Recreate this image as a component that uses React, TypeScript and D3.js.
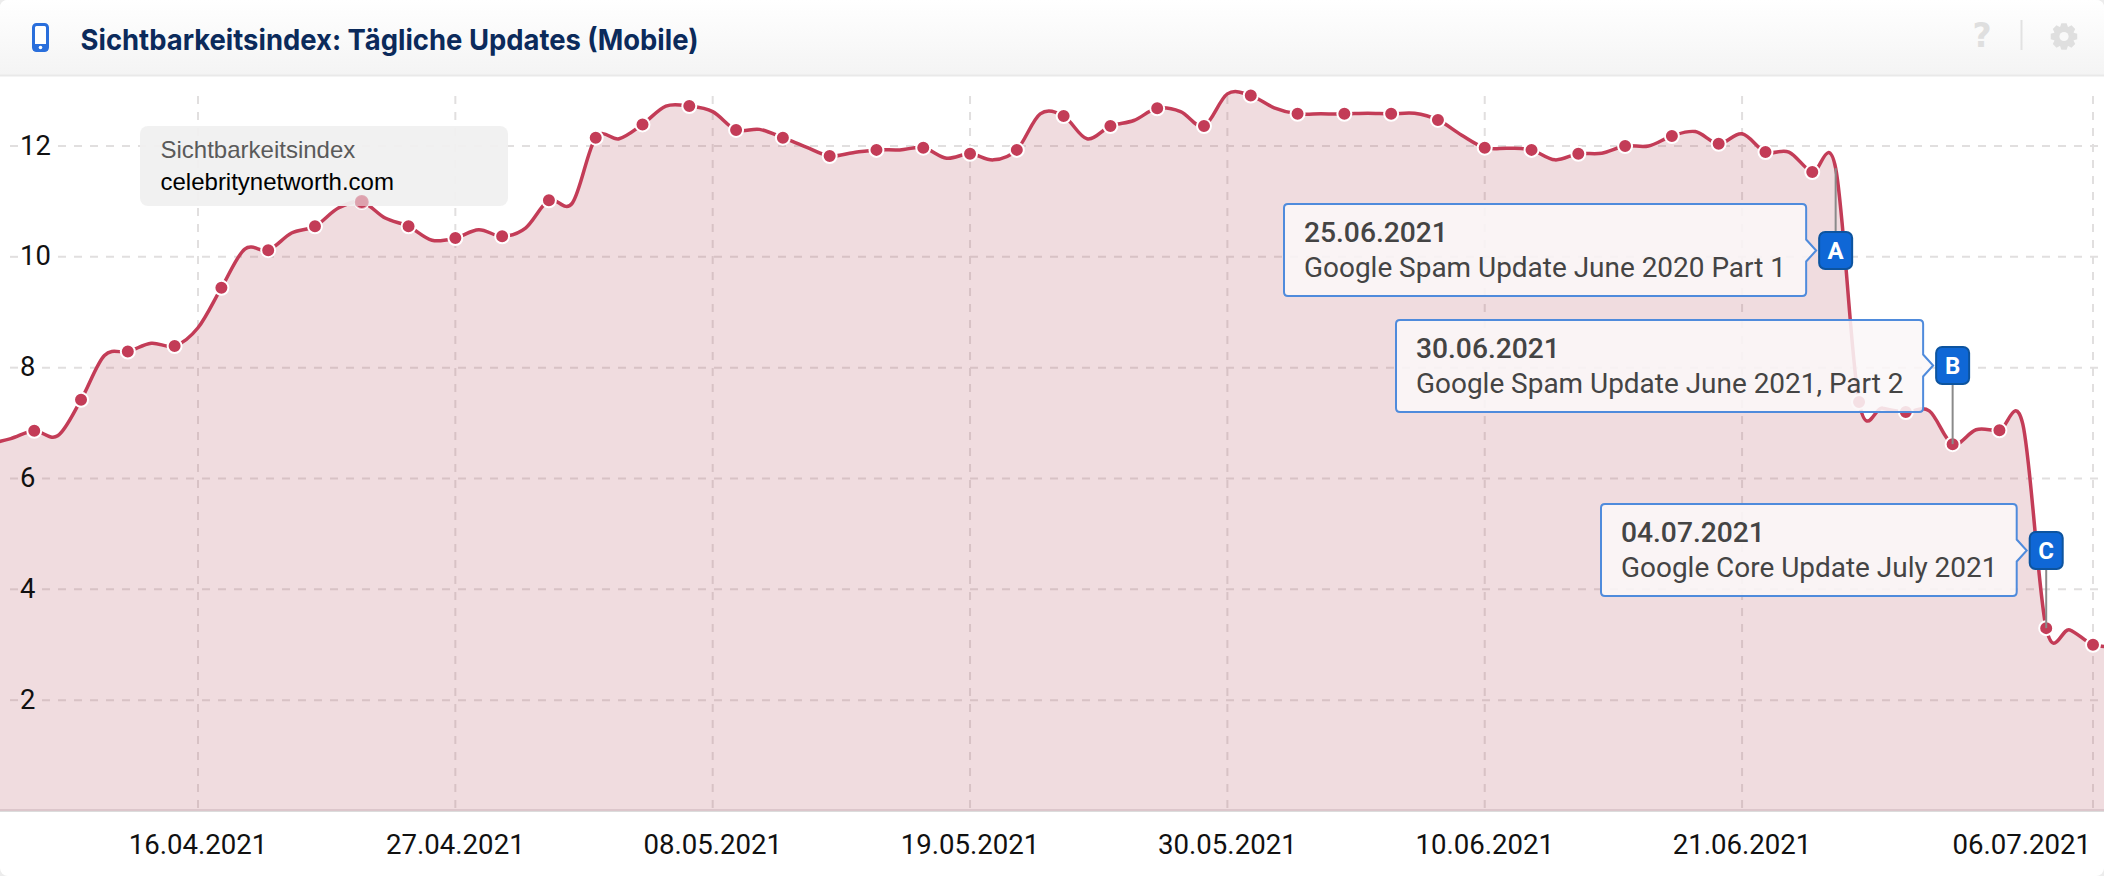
import React from "react";
import * as d3 from "d3";

const TITLE = "Sichtbarkeitsindex: Tägliche Updates (Mobile)";
const START_DATE = "2021-04-07";
// daily index values, starting at START_DATE
const dailyValues = [
  6.62, 6.72, 6.86, 6.77, 7.42, 8.22, 8.29, 8.44, 8.39, 8.72,
  9.44, 10.14, 10.12, 10.43, 10.55, 10.88, 10.99, 10.70, 10.55, 10.30,
  10.34, 10.49, 10.37, 10.52, 11.02, 10.97, 12.15, 12.13, 12.39, 12.72,
  12.72, 12.62, 12.29, 12.30, 12.15, 11.98, 11.82, 11.88, 11.93, 11.93,
  11.97, 11.78, 11.86, 11.75, 11.93, 12.58, 12.54, 12.13, 12.36, 12.46,
  12.68, 12.62, 12.36, 12.94, 12.91, 12.69, 12.58, 12.58, 12.58, 12.59,
  12.58, 12.59, 12.47, 12.20, 11.97, 11.96, 11.93, 11.75, 11.86, 11.87,
  12.0, 12.0, 12.18, 12.26, 12.04, 12.22, 11.89, 11.89, 11.53, 11.6,
  7.38, 7.27, 7.2, 7.22, 6.62, 6.88, 6.87, 6.98, 3.3, 3.27,
  3.0, 2.98,
];
const yTicks = [2, 4, 6, 8, 10, 12];
const xTickDates = ["2021-04-16", "2021-04-27", "2021-05-08", "2021-05-19", "2021-05-30", "2021-06-10", "2021-06-21", "2021-07-06"];
const seriesName = "Sichtbarkeitsindex";
const domainName = "celebritynetworth.com";
const eventLetters = ["A", "B", "C"];
const eventDates = ["2021-06-25", "2021-06-30", "2021-07-04"];
const eventTexts = ["Google Spam Update June 2020 Part 1", "Google Spam Update June 2021, Part 2", "Google Core Update July 2021"];
// layout of the callouts: box left/top, badge top
const eventBoxLeft = [1284, 1396, 1601];
const eventBoxTop = [204, 320, 504];
const eventBadgeTop = [232, 347, 532];

const W = 2104, H = 876;
const parse = d3.utcParse("%Y-%m-%d");
const fmtDate = d3.utcFormat("%d.%m.%Y");
const d0 = parse(START_DATE)!;
const dates = dailyValues.map((_, i) => d3.utcDay.offset(d0, i));
const rows = dates.map((date, i) => ({ date, v: dailyValues[i], i }));

const x = d3.scaleUtc().domain([parse("2021-04-16")!, parse("2021-07-06")!]).range([198, 2093]);
const y = d3.scaleLinear().domain([0, 12]).range([811, 146]);

const curve = d3.curveCardinal.tension(0);
const linePath = d3.line<any>().x(d => x(d.date)).y(d => y(d.v)).curve(curve)(rows)!;
const areaPath = d3.area<any>().x(d => x(d.date)).y0(y(0)).y1(d => y(d.v)).curve(curve)(rows)!;
const markers = rows.filter(r => r.i % 2 === 0);

const RED = "#c33c57";
const FONT = "Roboto, sans-serif";
const LABEL = { x: 140, y: 126, w: 368, h: 80 };

function gearPath(cx: number, cy: number, ro: number, ri: number, teeth: number) {
  const pts: string[] = [];
  for (let t = 0; t < teeth; t++) {
    const a = (t / teeth) * 2 * Math.PI;
    const w = Math.PI / teeth;
    const seq = [[ri, a - w * 0.95], [ro, a - w * 0.5], [ro, a + w * 0.5], [ri, a + w * 0.95]];
    seq.forEach(([r, an]) => pts.push(`${cx + r * Math.sin(an)},${cy - r * Math.cos(an)}`));
  }
  return "M" + pts.join("L") + "Z";
}

function Callout({ i }: { i: number }) {
  const date = parse(eventDates[i])!;
  const cx = x(date);
  const bw = 33, bh = 37;
  const badgeTop = eventBadgeTop[i];
  const left = eventBoxLeft[i], top = eventBoxTop[i];
  const right = cx - bw / 2 - 13, bottom = top + 92;
  const my = badgeTop + bh / 2;
  const r = 4;
  const box = `M${left + r},${top}H${right - r}Q${right},${top} ${right},${top + r}V${my - 11}L${right + 10},${my}L${right},${my + 11}V${bottom - r}Q${right},${bottom} ${right - r},${bottom}H${left + r}Q${left},${bottom} ${left},${bottom - r}V${top + r}Q${left},${top} ${left + r},${top}Z`;
  const val = dailyValues[dates.findIndex(dd => +dd === +date)];
  return (
    <g>
      <line x1={cx} x2={cx} y1={badgeTop} y2={y(val)} stroke="#8a8a8a" strokeWidth={2} />
      <path d={box} fill="#fbf7f8" fillOpacity={0.88} stroke="#4f8bdc" strokeWidth={2} />
      <text x={left + 20} y={top + 37.5} fontFamily={FONT} fontWeight={500} fontSize={28.2} fill="#444">{fmtDate(date)}</text>
      <text x={left + 20} y={top + 73} fontFamily={FONT} fontSize={27.95} fill="#444">{eventTexts[i]}</text>
      <rect x={cx - bw / 2} y={badgeTop} width={bw} height={bh} rx={6} fill="#0f67d6" stroke="#0d549f" strokeWidth={2} />
      <text x={cx} y={badgeTop + bh / 2 + 8.5} textAnchor="middle" fontFamily={FONT} fontWeight={700} fontSize={24} fill="#fff">{eventLetters[i]}</text>
    </g>
  );
}

export default function App() {
  const gridTop = 96;
  return (
    <svg width={W} height={H} viewBox={`0 0 ${W} ${H}`} style={{ position: "absolute", left: 0, top: 0, display: "block" }}>
      <defs>
        <linearGradient id="hd" x1="0" x2="0" y1="0" y2="1">
          <stop offset="0" stopColor="#ffffff" />
          <stop offset="1" stopColor="#f4f4f4" />
        </linearGradient>
        <clipPath id="plot"><rect x={0} y={76} width={W} height={734} /></clipPath>
      </defs>
      <rect width={W} height={H} fill="#ececec" />
      <rect width={W} height={H} rx={8} fill="#fff" />
      <path d={`M0,8Q0,0 8,0H${W - 8}Q${W},0 ${W},8V75H0Z`} fill="url(#hd)" />
      <line x1={0} x2={W} y1={75.5} y2={75.5} stroke="#e9e9e9" strokeWidth={2} />

      {/* phone icon */}
      <rect x={33.5} y={24.5} width={14} height={26} rx={3} fill="#fff" stroke="#2a6fdc" strokeWidth={3} />
      <rect x={33.5} y={44} width={14} height={7} fill="#2a6fdc" />
      <circle cx={40.5} cy={47.5} r={1.8} fill="#fff" />
      <text x={80.5} y={50} fontFamily="Inter, sans-serif" fontWeight={700} fontSize={29} fill="#0b2a5b" textLength={618} lengthAdjust="spacingAndGlyphs">{TITLE}</text>

      {/* header tools */}
      <text x={1982} y={47} textAnchor="middle" fontFamily="'DejaVu Sans', sans-serif" fontWeight={700} fontSize={33} fill="#dfdfdf">?</text>
      <line x1={2021.5} x2={2021.5} y1={20} y2={50} stroke="#e2e2e2" strokeWidth={2} />
      <path d={gearPath(2064, 36.5, 13.5, 10.5, 8)} fill="#dfdfdf" />
      <circle cx={2064} cy={36.5} r={4.6} fill="#f9f9f9" />

      {/* grid */}
      {yTicks.map(t => {
        const end = t >= 10 ? 58 : 42;
        return (
          <g key={t} stroke="#e1dfdf" strokeWidth={2}>
            <line x1={10} x2={18} y1={y(t)} y2={y(t)} />
            <line x1={end} x2={W} y1={y(t)} y2={y(t)} strokeDasharray="8 8" />
          </g>
        );
      })}
      {xTickDates.map(s => {
        const px = x(parse(s)!);
        return <line key={s} x1={px} x2={px} y1={gridTop} y2={810} stroke="#e1dfdf" strokeWidth={2} strokeDasharray="8 8" />;
      })}

      <g clipPath="url(#plot)">
        <path d={areaPath} fill="#b4505f" fillOpacity={0.2} />
        <path d={linePath} fill="none" stroke={RED} strokeWidth={3.5} />
      </g>
      <line x1={0} x2={W} y1={810} y2={810} stroke="#dcc6cb" strokeWidth={2} />
      <line x1={0} x2={W} y1={811.5} y2={811.5} stroke="#dcdcdc" strokeWidth={1} />

      {markers.map(m => (
        <circle key={m.i} cx={x(m.date)} cy={y(m.v)} r={7} fill={RED} stroke="#fff" strokeWidth={2} />
      ))}

      {/* axis labels */}
      {yTicks.map(t => (
        <text key={t} x={20} y={y(t) + 8.5} fontFamily={FONT} fontSize={27.4} fill="#111">{t}</text>
      ))}
      {xTickDates.map((s, i) => {
        const date = parse(s)!;
        const last = i === xTickDates.length - 1;
        return (
          <text key={s} x={last ? 2091 : x(date)} y={853.5} textAnchor={last ? "end" : "middle"} fontFamily={FONT} fontSize={27.6} fill="#111">{fmtDate(date)}</text>
        );
      })}

      {/* series label */}
      <rect x={LABEL.x} y={LABEL.y} width={LABEL.w} height={LABEL.h} rx={8} fill="#f0f0f0" fillOpacity={0.94} />
      {markers.filter(m => x(m.date) > LABEL.x && x(m.date) < LABEL.x + LABEL.w && y(m.v) < LABEL.y + LABEL.h + 3).map(m => (
        <circle key={m.i} cx={x(m.date)} cy={y(m.v)} r={7} fill={RED} fillOpacity={0.4} />
      ))}
      <text x={160.5} y={157.5} fontFamily="'Liberation Sans', Arial, sans-serif" fontSize={24} fill="#5a5a5a">{seriesName}</text>
      <text x={160.5} y={190} fontFamily="'Liberation Sans', Arial, sans-serif" fontSize={24} fill="#000">{domainName}</text>

      {eventLetters.map((_, i) => <Callout key={i} i={i} />)}
    </svg>
  );
}
